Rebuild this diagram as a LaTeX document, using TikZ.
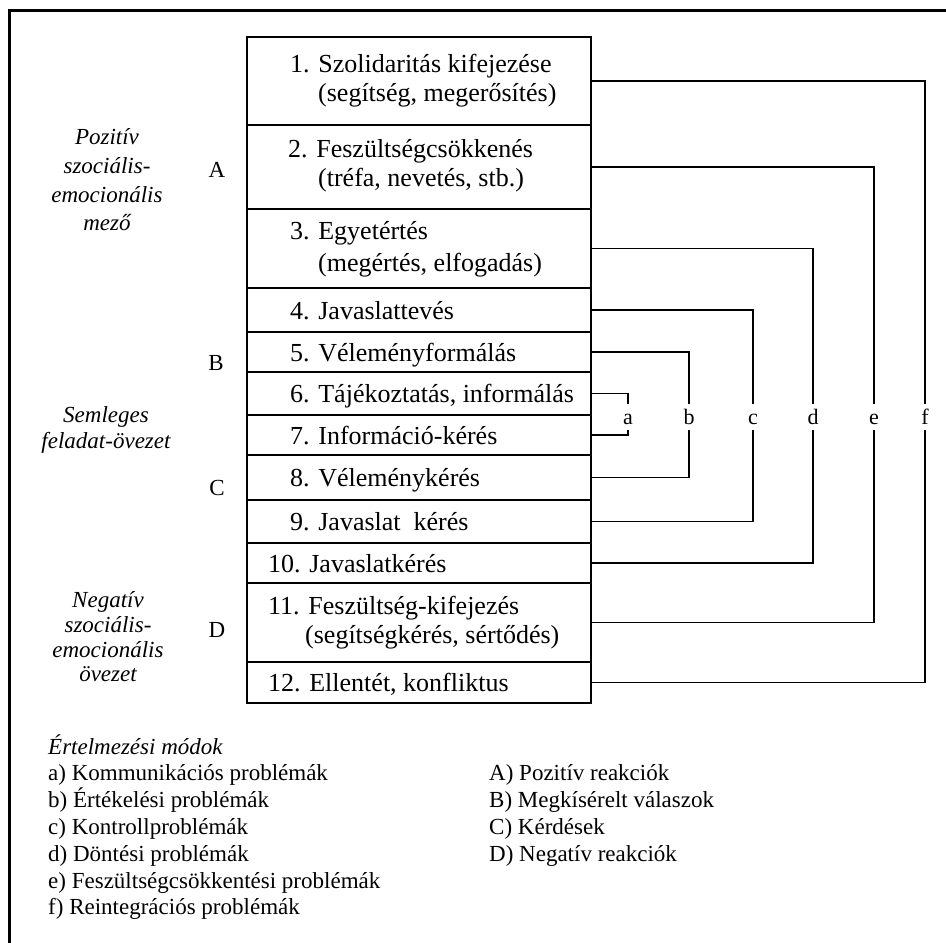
\documentclass[tikz,border=0pt]{standalone}
\usepackage{fontspec}
\setmainfont{Liberation Serif}
\begin{document}
\begin{tikzpicture}[x=1pt,y=-1pt,
  rowbox/.style={draw, line width=1.5pt, minimum width=344pt, inner sep=0pt, outer sep=0pt, anchor=north west},
  rowtext/.style={anchor=base west, inner sep=0pt, font=\fontsize{26}{30}\selectfont},
  conn/.style={line width=1.5pt},
  brlab/.style={inner sep=0pt, outer sep=0pt, text height=15pt, text depth=0pt, minimum height=26pt, font=\fontsize{22}{24}\selectfont},
  zonelab/.style={align=center, inner sep=0pt, font=\itshape},
  zoneletter/.style={inner sep=0pt, font=\fontsize{23}{26}\selectfont},
  legend/.style={anchor=base west, inner sep=0pt, font=\fontsize{23}{26}\selectfont}]
\useasboundingbox (0,0) rectangle (946,943);
% frame
\draw[line width=3pt] (9,943) -- (9,10) -- (946,10);
% rows
\node[rowbox, minimum height=88pt] (r1) at (247,37) {};
\node[rowbox, minimum height=84pt] (r2) at (r1.south west) {};
\node[rowbox, minimum height=79pt] (r3) at (r2.south west) {};
\node[rowbox, minimum height=44pt] (r4) at (r3.south west) {};
\node[rowbox, minimum height=40pt] (r5) at (r4.south west) {};
\node[rowbox, minimum height=43pt] (r6) at (r5.south west) {};
\node[rowbox, minimum height=40pt] (r7) at (r6.south west) {};
\node[rowbox, minimum height=45pt] (r8) at (r7.south west) {};
\node[rowbox, minimum height=43pt] (r9) at (r8.south west) {};
\node[rowbox, minimum height=40pt] (r10) at (r9.south west) {};
\node[rowbox, minimum height=79pt] (r11) at (r10.south west) {};
\node[rowbox, minimum height=41pt] (r12) at (r11.south west) {};
% row texts
\node[rowtext] (t1a) at (290,72) {1. Szolidaritás kifejezése};
\node[rowtext] (t1b) at (318,101) {(segítség, megerősítés)};
\node[rowtext] (t2a) at (288,157) {2. Feszültségcsökkenés};
\node[rowtext] (t2b) at (318,186) {(tréfa, nevetés, stb.)};
\node[rowtext] (t3a) at (290,239) {3. Egyetértés};
\node[rowtext] (t3b) at (318,271) {(megértés, elfogadás)};
\node[rowtext] (t4) at (290,319) {4. Javaslattevés};
\node[rowtext] (t5) at (290,361) {5. Véleményformálás};
\node[rowtext] (t6) at (290,402) {6. Tájékoztatás, informálás};
\node[rowtext] (t7) at (290,444) {7. Információ-kérés};
\node[rowtext] (t8) at (290,486) {8. Véleménykérés};
\node[rowtext] (t9) at (290,530) {9. Javaslat\ \ kérés};
\node[rowtext] (t10) at (268,572) {10. Javaslatkérés};
\node[rowtext] (t11a) at (268,614) {11. Feszültség-kifejezés};
\node[rowtext] (t11b) at (305,643) {(segítségkérés, sértődés)};
\node[rowtext] (t12) at (268,691) {12. Ellentét, konfliktus};
% bracket labels
\node[brlab] (la) at (628,417) {a};
\node[brlab] (lb) at (689,417) {b};
\node[brlab] (lc) at (753,417) {c};
\node[brlab] (ld) at (813,417) {d};
\node[brlab] (le) at (874,417) {e};
\node[brlab] (lf) at (925,417) {f};
% brackets
\draw[conn] (r6.east) -| (la.north);  \draw[conn] (la.south) |- (r7.east);
\draw[conn] (r5.east) -| (lb.north);  \draw[conn] (lb.south) |- (r8.east);
\draw[conn] (r4.east) -| (lc.north);  \draw[conn] (lc.south) |- (r9.east);
\draw[conn] (r3.east) -| (ld.north);  \draw[conn] (ld.south) |- (r10.east);
\draw[conn] (r2.east) -| (le.north);  \draw[conn] (le.south) |- (r11.east);
\draw[conn] (r1.east) -| (lf.north);  \draw[conn] (lf.south) |- (r12.east);
% zone labels
\node[zonelab, font=\itshape\fontsize{23}{28.7}\selectfont] (z1) at (107,180) {Pozitív\\szociális-\\emocionális\\mező};
\node[zonelab, font=\itshape\fontsize{23}{26}\selectfont] (z2) at (106,430) {Semleges\\feladat-övezet};
\node[zonelab, font=\itshape\fontsize{23}{24.7}\selectfont] (z3) at (108,637) {Negatív\\szociális-\\emocionális\\övezet};
\node[zoneletter] (A) at (217,170) {A};
\node[zoneletter] (B) at (216,363) {B};
\node[zoneletter] (C) at (217,488) {C};
\node[zoneletter] (D) at (217,630) {D};
% legend
\node[legend, font=\itshape\fontsize{23}{26}\selectfont] (lg0) at (48,754) {Értelmezési módok};
\node[legend] (lg1) at (48,780) {a) Kommunikációs problémák};
\node[legend] (lg2) at (48,807) {b) Értékelési problémák};
\node[legend] (lg3) at (48,834) {c) Kontrollproblémák};
\node[legend] (lg4) at (48,861) {d) Döntési problémák};
\node[legend] (lg5) at (48,888) {e) Feszültségcsökkentési problémák};
\node[legend] (lg6) at (48,914) {f) Reintegrációs problémák};
\node[legend] (lA) at (489,780) {A) Pozitív reakciók};
\node[legend] (lB) at (489,807) {B) Megkísérelt válaszok};
\node[legend] (lC) at (489,834) {C) Kérdések};
\node[legend] (lD) at (489,861) {D) Negatív reakciók};
\end{tikzpicture}
\end{document}
